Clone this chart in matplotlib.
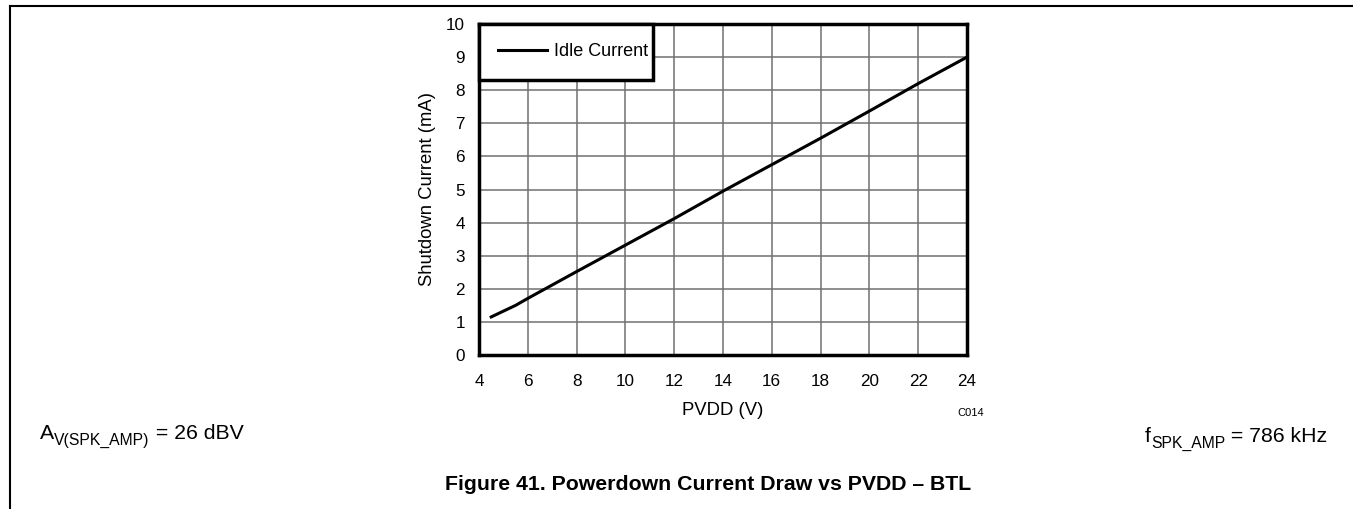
import numpy as np
from matplotlib import pyplot as plt
from matplotlib.lines import Line2D

plt.rcParams["font.family"] = ["Liberation Sans", "DejaVu Sans"]

# values
pvdd = [4.5, 5.5, 6, 8, 10, 12, 14, 16, 18, 20, 22, 24]
idle_current = [1.15, 1.5, 1.71, 2.52, 3.32, 4.12, 4.95, 5.75, 6.55, 7.37, 8.2, 9.0]

x_ticks = [4, 6, 8, 10, 12, 14, 16, 18, 20, 22, 24]
y_ticks = [0, 1, 2, 3, 4, 5, 6, 7, 8, 9, 10]

W, H = 1353, 509


def chain_text(fig, x_px, base_px, parts):
    # parts: list of (text, fontsize, baseline shift in px)
    renderer = fig.canvas.get_renderer()
    x = x_px
    for s, size, shift in parts:
        t = fig.text(x / W, 1 - (base_px + shift) / H, s, fontsize=size,
                     ha="left", va="baseline")
        bb = t.get_window_extent(renderer)
        x += bb.width


def main():
    fig = plt.figure(figsize=(W / 100, H / 100), dpi=100)

    # page border lines
    fig.add_artist(Line2D([10 / W, 1.0], [1 - 6 / H, 1 - 6 / H], color="black", lw=1.5))
    fig.add_artist(Line2D([10 / W, 10 / W], [0, 1 - 6 / H], color="black", lw=1.5))

    left, right, top, bottom = 479, 967, 24, 355
    ax = fig.add_axes([left / W, 1 - bottom / H, (right - left) / W, (bottom - top) / H])
    ax.plot(pvdd, idle_current, color="black", lw=2.2, label="Idle Current", zorder=3)

    ax.set_xlim(4, 24)
    ax.set_ylim(0, 10)
    ax.set_xticks(x_ticks)
    ax.set_yticks(y_ticks)
    ax.grid(True, color="#707070", lw=1.1)
    ax.tick_params(axis="y", length=0, labelsize=12.3, pad=10)
    ax.tick_params(axis="x", length=0, labelsize=12.3, pad=14)
    for s in ax.spines.values():
        s.set_linewidth(2.5)
        s.set_color("black")
    ax.set_xlabel("PVDD (V)", fontsize=13.3, labelpad=9)
    ax.set_ylabel("Shutdown Current (mA)", fontsize=13.3, labelpad=7)

    leg = ax.legend(loc="upper left", bbox_to_anchor=(0, 1, 0.357, 0), mode="expand",
                    fontsize=13, frameon=True, fancybox=False, borderaxespad=0,
                    handlelength=2.7, handletextpad=0.4, borderpad=1.08)
    leg.get_frame().set_edgecolor("black")
    leg.get_frame().set_linewidth(2.5)
    leg.get_frame().set_alpha(1)

    fig.text(971 / W, 1 - 413 / H, "C014", fontsize=8, ha="center", va="center")

    chain_text(fig, 40, 439, [("A", 15.3, 0), ("V(SPK_AMP)", 11.3, 6), (" = 26 dBV", 15.3, 0)])
    chain_text(fig, 1145, 442, [("f", 15.3, 0), ("SPK_AMP", 11.3, 6), (" = 786 kHz", 15.3, 0)])

    fig.text(445 / W, 1 - 485 / H, "Figure 41. Powerdown Current Draw vs PVDD \u2013 BTL",
             fontsize=15.3, fontweight="bold", ha="left", va="center")

    fig.savefig("out.png", dpi=100)


if __name__ == "__main__":
    main()
